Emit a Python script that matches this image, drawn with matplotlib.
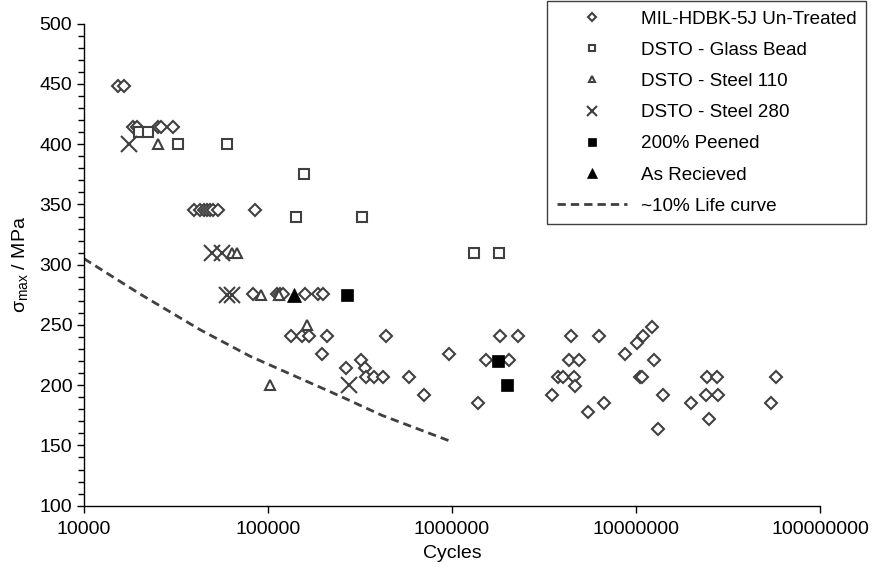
import numpy as np
import matplotlib
matplotlib.use('Agg')
import matplotlib.pyplot as plt
from matplotlib.ticker import MultipleLocator, FixedLocator, FixedFormatter

plt.rcParams['font.family'] = ['Liberation Sans', 'DejaVu Sans']
plt.rcParams['mathtext.fontset'] = 'custom'
plt.rcParams['mathtext.rm'] = 'Liberation Sans'

# MIL-HDBK-5J un-treated data (cycles, stress MPa)
mil_cycles = [15300, 16500,
              18500, 19500, 25400, 26200, 30600,
              39600, 42700, 44900, 46500, 48400, 50500, 53700, 85100,
              82700, 111700, 116500, 121000, 159000, 185800, 200000,
              133000, 152700, 168000, 210300, 438700, 1830000, 2270000,
              4450000, 6310000, 10860000,
              196000, 968000, 1530000, 2050000, 320000, 265000, 337000,
              341000, 377000, 421000, 587000, 706000, 1390000,
              4340000, 4920000, 12560000, 12200000, 10100000, 8740000,
              3790000, 4010000, 4610000, 4670000, 10470000, 10790000,
              3490000, 5480000, 6730000, 14100000, 13180000,
              24300000, 27600000, 24100000, 27900000, 20000000, 24800000,
              57900000, 54200000]
mil_stress = [448, 448,
              414, 414, 414, 414, 414,
              345, 345, 345, 345, 345, 345, 345, 345,
              276, 276, 276, 276, 276, 276, 276,
              241, 241, 241, 241, 241, 241, 241,
              241, 241, 241,
              226, 226, 221, 221, 221, 214, 214,
              207, 207, 207, 207, 192, 185,
              221, 221, 221, 248, 235, 226,
              207, 207, 207, 199, 207, 207,
              192, 178, 185, 192, 164,
              207, 207, 192, 192, 185, 172,
              207, 185]

# DSTO glass bead
gb_cycles = [20000, 22200, 32300, 59700, 156000, 141600, 326000, 1325000, 1790000]
gb_stress = [410, 410, 400, 400, 375, 340, 340, 310, 310]

# DSTO steel 110
s110_cycles = [25200, 63500, 67700, 91600, 115000, 162000, 102600]
s110_stress = [400, 310, 310, 275, 275, 250, 200]

# DSTO steel 280
s280_cycles = [17600, 49400, 56100, 59700, 63500, 277000]
s280_stress = [400, 310, 310, 275, 275, 200]

# 200% peened
peen_cycles = [270000, 1780000, 1990000]
peen_stress = [275, 220, 200]

# As received
asrec_cycles = [137700]
asrec_stress = [275]

# ~10% life curve
life_cycles = [10000, 20000, 42800, 80000, 246000, 416000, 1000000]
life_stress = [305, 276, 246, 224, 191, 175, 153]

xticks = [1e4, 1e5, 1e6, 1e7, 1e8]
xtick_labels = ['10000', '100000', '1000000', '10000000', '100000000']

fig = plt.figure(figsize=(8.82, 5.67), dpi=100)
ax = fig.add_axes([84/882, 1-505.7/567, (820-84)/882, (505.7-23.7)/567])

grey = '#404040'
ax.plot(mil_cycles, mil_stress, 'D', ms=6, mfc='white', mec=grey, mew=1.5,
        ls='none', label='MIL-HDBK-5J Un-Treated', clip_on=False)
ax.plot(gb_cycles, gb_stress, 's', ms=7.5, mfc='white', mec=grey, mew=1.5,
        ls='none', label='DSTO - Glass Bead', clip_on=False)
ax.plot(s110_cycles, s110_stress, '^', ms=7.5, mfc='white', mec=grey, mew=1.5,
        ls='none', label='DSTO - Steel 110', clip_on=False)
ax.plot(s280_cycles, s280_stress, 'x', ms=11, mec=grey, mew=1.5,
        ls='none', label='DSTO - Steel 280', clip_on=False)
ax.plot(peen_cycles, peen_stress, 's', ms=9, mfc='black', mec='black', mew=0.5,
        ls='none', label='200% Peened', clip_on=False)
ax.plot(asrec_cycles, asrec_stress, '^', ms=10, mfc='black', mec='black', mew=0.5,
        ls='none', label='As Recieved', clip_on=False)
ax.plot(life_cycles, life_stress, color=grey, lw=2, ls=(0, (3, 1.8)),
        label='~10% Life curve')

ax.set_xscale('log')
ax.set_xlim(1e4, 1e8)
ax.set_ylim(100, 500)
ax.xaxis.set_major_locator(FixedLocator(xticks))
ax.xaxis.set_major_formatter(FixedFormatter(xtick_labels))
ax.xaxis.set_minor_locator(FixedLocator([]))
ax.yaxis.set_major_locator(MultipleLocator(50))
ax.yaxis.set_minor_locator(MultipleLocator(10))
ax.tick_params(axis='both', which='major', direction='out', length=5, width=1,
               labelsize=14, colors='black')
ax.tick_params(axis='y', which='minor', direction='out', length=4, width=1)
ax.tick_params(axis='x', pad=6)

for s in ['top', 'right']:
    ax.spines[s].set_visible(False)
for s in ['left', 'bottom']:
    ax.spines[s].set_linewidth(1)

ax.set_xlabel('Cycles', fontsize=14, labelpad=5)
ax.set_ylabel('σ$_{\\mathrm{max}}$ / MPa', fontsize=14, labelpad=6)

leg = ax.legend(loc='upper right', bbox_to_anchor=(866/882, 1-1/567),
                bbox_transform=fig.transFigure, fontsize=13.6, frameon=True,
                fancybox=False, edgecolor=grey, framealpha=1, markerscale=0.65,
                handlelength=3.7, handletextpad=0.75, labelspacing=0.74,
                borderpad=0.5, borderaxespad=0)
leg.get_frame().set_linewidth(1)

fig.savefig('out.png', dpi=100)
